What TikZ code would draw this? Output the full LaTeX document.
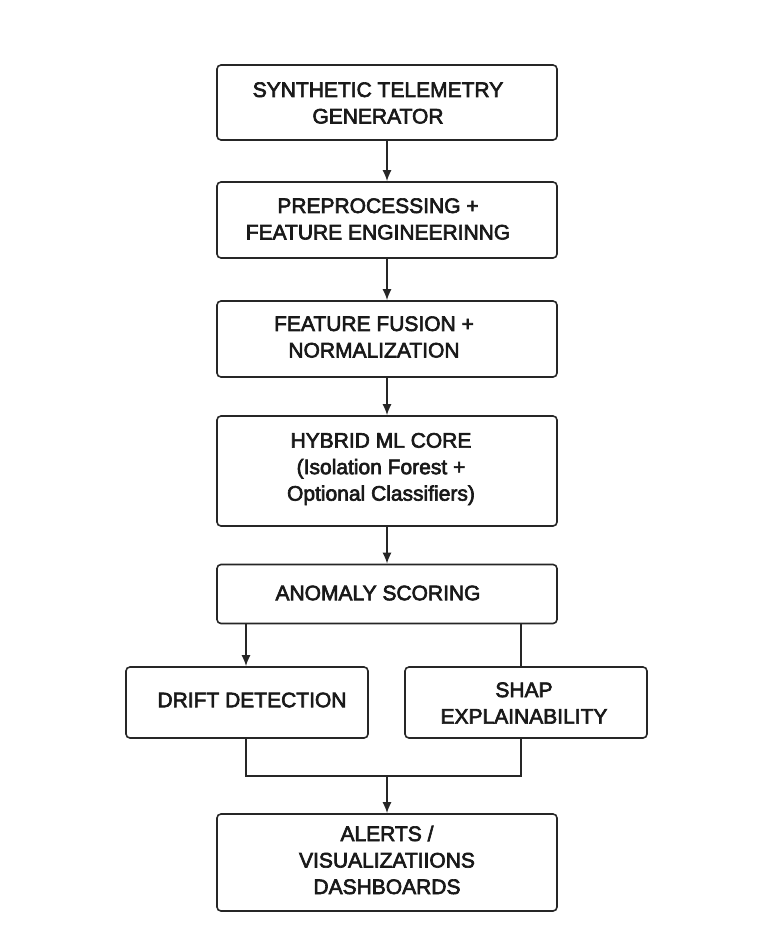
\documentclass[tikz,border=0pt]{standalone}
\usepackage{fontspec}
\setmainfont{Liberation Sans}[UprightFeatures={FakeBold=3}]
\usetikzlibrary{arrows.meta}
\begin{document}
\begin{tikzpicture}[x=1pt,y=-1pt,
  box/.style={draw=black!85,line width=1.6pt,rounded corners=4pt,rectangle,inner sep=0pt},
  txt/.style={align=center,font=\fontsize{21}{26.5}\selectfont,text=black!90,inner sep=0pt},
  conn/.style={draw=black!85,line width=1.6pt},
  arr/.style={conn,-{Latex[length=11pt,width=9pt]}}]
\useasboundingbox (0,0) rectangle (766,948);
% boxes
\node[box,minimum width=340pt,minimum height=75pt] (b1) at (387,102.5) {};
\node[box,minimum width=340pt,minimum height=76pt] (b2) at (387,220) {};
\node[box,minimum width=340pt,minimum height=76pt] (b3) at (387,339) {};
\node[box,minimum width=340pt,minimum height=110pt] (b4) at (387,471) {};
\node[box,minimum width=340pt,minimum height=59pt] (b5) at (387,594) {};
\node[box,minimum width=242pt,minimum height=71pt] (b6) at (247,702.5) {};
\node[box,minimum width=242pt,minimum height=71pt] (b7) at (526,702.5) {};
\node[box,minimum width=340pt,minimum height=97pt] (b8) at (387,862.5) {};
% texts
\node[txt] (t1) at (378,103) {SYNTHETIC TELEMETRY\\GENERATOR};
\node[txt] (t2) at (378,219) {PREPROCESSING +\\FEATURE ENGINEERINNG};
\node[txt] (t3) at (374,337) {FEATURE FUSION +\\NORMALIZATION};
\node[txt] (t4) at (381,469) {HYBRID ML CORE\\(Isolation Forest +\\Optional Classifiers)};
\node[txt] (t5) at (378,593) {ANOMALY SCORING};
\node[txt] (t6) at (252,700) {DRIFT DETECTION};
\node[txt] (t7) at (524,703) {SHAP\\EXPLAINABILITY};
\node[txt] (t8) at (387,860) {ALERTS /\\VISUALIZATIIONS\\DASHBOARDS};
% connectors
\coordinate (r1) at ([xshift=-5pt]b7.north);
\coordinate (r2) at ([xshift=-5pt]b7.south);
\coordinate (l1) at ([xshift=-1pt]b6.north);
\coordinate (l2) at ([xshift=-1pt]b6.south);
\draw[arr] (b1.south) -- (b2.north);
\draw[arr] (b2.south) -- (b3.north);
\draw[arr] (b3.south) -- (b4.north);
\draw[arr] (b4.south) -- (b5.north);
\draw[arr] (b5.south -| l1) -- (l1);
\draw[conn] (b5.south -| r1) -- (r1);
\coordinate (m) at (387,776);
\draw[conn] (l2) |- (m) -| (r2);
\draw[arr] (m) -- (b8.north);
\end{tikzpicture}
\end{document}
